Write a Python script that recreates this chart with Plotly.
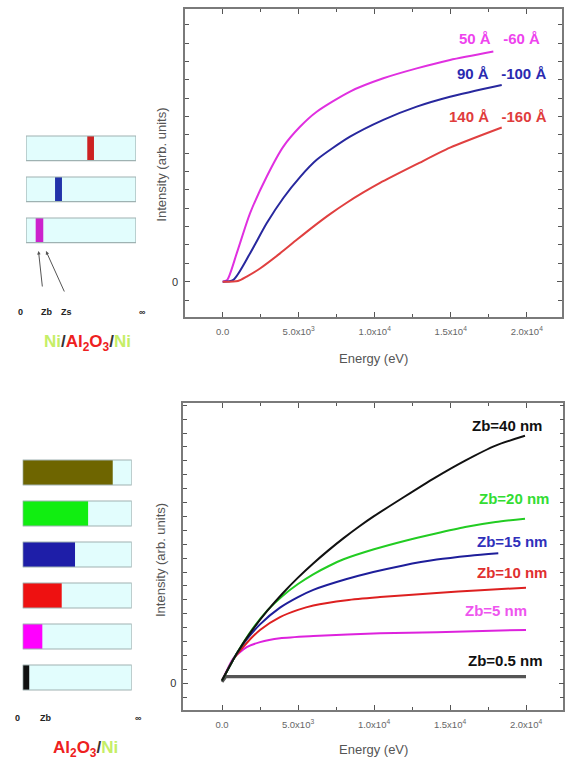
import plotly.graph_objects as go

W, H = 566, 760

# ---------------- data ----------------
# Top panel: Ni/Al2O3/Ni
top_e_50 = [0, 300, 921, 1796, 2892, 3988, 5085, 6184, 8375, 10566, 12763, 14954, 17803]
top_i_50 = [0, 0.05, 0.77, 1.86, 2.86, 3.68, 4.22, 4.63, 5.18, 5.54, 5.81, 6.04, 6.27]
top_e_90 = [0, 700, 1796, 2892, 3988, 5085, 6184, 8375, 10566, 12763, 14954, 18355]
top_i_90 = [0, 0.05, 0.77, 1.59, 2.28, 2.85, 3.32, 3.95, 4.41, 4.77, 5.04, 5.36]
top_e_140 = [0, 1000, 1579, 2454, 3770, 4868, 5961, 7059, 8158, 9250, 10349, 12763, 14954, 18355]
top_i_140 = [0, 0.02, 0.14, 0.36, 0.77, 1.14, 1.5, 1.84, 2.15, 2.43, 2.69, 3.2, 3.65, 4.2]
top_labels = ["50 Å\u00a0\u00a0 -60 Å", "90 Å\u00a0\u00a0 -100 Å", "140 Å\u00a0\u00a0 -160 Å"]

# Bottom panel: Al2O3/Ni
bot_e_40 = [0, 1000, 2000, 3000, 4000, 5000, 6000, 7000, 8000, 9000, 10000, 12000, 14000, 16000, 18000, 19934]
bot_i_40 = [0.1, 1.1, 1.92, 2.62, 3.24, 3.8, 4.31, 4.78, 5.22, 5.63, 6.01, 6.71, 7.39, 8.01, 8.55, 8.9]
bot_e_20 = [0, 1000, 2000, 3000, 4000, 5000, 6000, 7000, 8000, 10000, 12000, 14000, 16000, 18000, 19934]
bot_i_20 = [0.1, 1.1, 1.95, 2.63, 3.15, 3.57, 3.92, 4.21, 4.46, 4.82, 5.12, 5.38, 5.62, 5.8, 5.92]
bot_e_15 = [0, 1000, 1625, 2500, 3816, 5000, 6007, 8204, 9954, 11928, 14125, 16316, 18178]
bot_i_15 = [0.1, 1.1, 1.58, 2.12, 2.72, 3.1, 3.36, 3.75, 4.0, 4.24, 4.45, 4.59, 4.68]
bot_e_10 = [0, 800, 1625, 2500, 3816, 5000, 6007, 8204, 10395, 14125, 17000, 20000]
bot_i_10 = [0.1, 0.9, 1.45, 1.92, 2.38, 2.64, 2.8, 2.99, 3.1, 3.25, 3.35, 3.44]
bot_e_5 = [0, 400, 743, 1625, 2500, 3816, 6007, 10395, 14125, 20000]
bot_i_5 = [0.1, 0.55, 0.9, 1.3, 1.48, 1.62, 1.7, 1.8, 1.84, 1.92]
bot_e_05 = [0, 250, 20000]
bot_i_05 = [0.05, 0.24, 0.24]
bot_labels = ["Zb=40 nm", "Zb=20 nm", "Zb=15 nm", "Zb=10 nm", "Zb=5 nm", "Zb=0.5 nm"]

# axis ticks
x_tick_vals = [0, 5000, 10000, 15000, 20000]
x_tick_text = ["0.0", "5.0x10<sup>3</sup>", "1.0x10<sup>4</sup>", "1.5x10<sup>4</sup>", "2.0x10<sup>4</sup>"]
y_tick_vals = [0]
y_tick_text = ["0"]

# schematics: depth fraction of layer (0 .. infinity)
top_rows = ["a", "b", "c"]
top_stripe_start = [0.557, 0.264, 0.088]
top_stripe_end = [0.618, 0.327, 0.157]
top_stripe_colors = ["#cc2222", "#2233aa", "#cc22cc"]

bot_rows = ["r40", "r20", "r15", "r10", "r5", "r05"]
bot_fill = [0.826, 0.60, 0.48, 0.358, 0.18, 0.06]
bot_fill_colors = ["#6e6500", "#11ee11", "#1e1ea8", "#ee1111", "#ff00ff", "#111111"]

# ---------------- helpers ----------------
def px(x):
    return x / W

def py(y):
    return 1 - y / H

FONT = "Liberation Sans, Arial, sans-serif"

fig = go.Figure()

def line(x, y, color, xa, ya, width=2.0, shape="spline"):
    ln = dict(color=color, width=width, shape=shape)
    if shape == "spline":
        ln["smoothing"] = 0.7
    fig.add_trace(go.Scatter(x=x, y=y, mode="lines", line=ln,
                             xaxis=xa, yaxis=ya, showlegend=False, hoverinfo="skip"))

# top curves
line(top_e_50, top_i_50, "#e030e0", "x", "y")
line(top_e_90, top_i_90, "#28289e", "x", "y")
line(top_e_140, top_i_140, "#e04040", "x", "y")

# bottom curves
line(bot_e_05, bot_i_05, "#555555", "x2", "y2", width=3.2, shape="linear")
line(bot_e_5, bot_i_5, "#dd22dd", "x2", "y2")
line(bot_e_10, bot_i_10, "#dd2020", "x2", "y2")
line(bot_e_15, bot_i_15, "#1e1e9a", "x2", "y2")
line(bot_e_20, bot_i_20, "#22cc22", "x2", "y2")
line(bot_e_40, bot_i_40, "#111111", "x2", "y2")

# schematics
CYAN = "#e2fdfd"
EDGE = "#9fb2b2"

def bar(rows, lengths, bases, colors, edge, xa, ya, width):
    fig.add_trace(go.Bar(orientation="h", y=rows, x=lengths, base=bases, width=width,
                         marker=dict(color=colors, line=dict(color=edge or "rgba(0,0,0,0)", width=1.2 if edge else 0)),
                         xaxis=xa, yaxis=ya, showlegend=False, hoverinfo="skip", textposition="none"))

n3 = len(top_rows)
bar(top_rows, [1] * n3, [0] * n3, CYAN, None, "x3", "y3", 0.6)
bar(top_rows, [e - s for s, e in zip(top_stripe_start, top_stripe_end)], top_stripe_start,
    top_stripe_colors, None, "x3", "y3", 0.6)
bar(top_rows, [1] * n3, [0] * n3, "rgba(0,0,0,0)", EDGE, "x3", "y3", 0.6)

n6 = len(bot_rows)
bar(bot_rows, [1] * n6, [0] * n6, CYAN, None, "x4", "y4", 0.61)
bar(bot_rows, bot_fill, [0] * n6, bot_fill_colors, None, "x4", "y4", 0.61)
bar(bot_rows, [1] * n6, [0] * n6, "rgba(0,0,0,0)", EDGE, "x4", "y4", 0.61)

AXC = "#7a7a7a"

def xaxis(domain, anchor, rng):
    return dict(domain=domain, anchor=anchor, range=rng, showgrid=False, zeroline=False,
                showline=True, linecolor=AXC, linewidth=1.5, mirror="allticks",
                ticks="inside", ticklen=5, tickwidth=1, tickcolor="#555",
                tickmode="array", tickvals=x_tick_vals, ticktext=x_tick_text,
                minor=dict(ticks="inside", dtick=2500, ticklen=3, tickcolor="#555", tick0=0),
                tickfont=dict(family=FONT, size=9.5, color="#666"), ticklabelstandoff=5)

def yaxis(domain, anchor, rng):
    return dict(domain=domain, anchor=anchor, range=rng, showgrid=False, zeroline=False,
                showline=True, linecolor=AXC, linewidth=1.5, mirror="allticks",
                ticks="inside", ticklen=5, tickwidth=1, tickcolor="#555",
                tickmode="array", tickvals=y_tick_vals, ticktext=y_tick_text,
                minor=dict(ticks="inside", dtick=0.5, ticklen=4, tickcolor="#555", tick0=0),
                tickfont=dict(family=FONT, size=11, color="#333"), ticklabelstandoff=3)

hidden = dict(visible=False, showticklabels=False, showgrid=False, zeroline=False, fixedrange=True)

fig.update_layout(
    width=W, height=H, margin=dict(l=0, r=0, t=0, b=0),
    paper_bgcolor="white", plot_bgcolor="rgba(0,0,0,0)",
    barmode="overlay", showlegend=False,
    xaxis=xaxis([px(185), px(561.7)], "y", [-2480, 22300]),
    yaxis=yaxis([py(316.7), py(9.3)], "x", [-0.954, 7.42]),
    xaxis2=xaxis([px(183.3), px(563.3)], "y2", [-2546, 22454]),
    yaxis2=yaxis([py(710), py(403.3)], "x2", [-0.96, 10.07]),
    xaxis3=dict(domain=[px(26), px(136)], anchor="y3", range=[0, 1], **hidden),
    yaxis3=dict(domain=[py(250.8), py(127.8)], anchor="x3", type="category", categoryorder="array",
                categoryarray=top_rows, range=[len(top_rows) - 0.5, -0.5], **hidden),
    xaxis4=dict(domain=[px(22.7), px(131.7)], anchor="y4", range=[0, 1], **hidden),
    yaxis4=dict(domain=[py(698), py(452)], anchor="x4", type="category", categoryorder="array",
                categoryarray=bot_rows, range=[len(bot_rows) - 0.5, -0.5], **hidden),
)

ann = []

def text(x, y, s, size, color, bold=True, angle=0, xanchor="center"):
    ann.append(dict(x=px(x), y=py(y), xref="paper", yref="paper", text=("<b>%s</b>" % s) if bold else s,
                    showarrow=False, xanchor=xanchor, yanchor="middle", textangle=angle,
                    font=dict(family=FONT, size=size, color=color)))

# axis titles
text(373, 358, "Energy (eV)", 13, "#555", bold=False)
text(161.7, 165, "Intensity (arb. units)", 13, "#555", bold=False, angle=-90)
text(373, 749, "Energy (eV)", 13, "#555", bold=False)
text(160, 560, "Intensity (arb. units)", 13, "#555", bold=False, angle=-90)

# curve labels top
text(500, 38.3, top_labels[0], 15, "#ee44ee")
text(501.7, 73.3, top_labels[1], 15, "#2a2ab0")
text(498, 116, top_labels[2], 15, "#e03c3c")

# curve labels bottom
bl_pos = [(506.7, 425), (514, 498.3), (511.7, 541.7), (511.7, 572.7), (495.8, 610.7), (505.8, 660)]
bl_col = ["#111111", "#33dd33", "#3030bb", "#e03030", "#ee55ee", "#111111"]
for (x, y), s, c in zip(bl_pos, bot_labels, bl_col):
    text(x, y, s, 15, c)

# schematic labels top
for x, s in [(20.7, "0"), (46.7, "Zb"), (66.3, "Zs"), (142.5, "∞")]:
    text(x, 311.7, s, 9, "#222")
NI = "#c5ee66"
AL = "#ee2020"
ann.append(dict(x=px(87.5), y=py(343.3), xref="paper", yref="paper", showarrow=False,
                xanchor="center", yanchor="middle", font=dict(family=FONT, size=17, color="#333"),
                text="<b><span style='color:%s'>Ni</span>/<span style='color:%s'>Al<sub>2</sub>O<sub>3</sub></span>/<span style='color:%s'>Ni</span></b>" % (NI, AL, NI)))
# arrows from Zb / Zs to the layer edges
for hx, hy, ax, ay in [(38.5, 251, 4, 37), (46, 251, 19, 42)]:
    ann.append(dict(x=px(hx), y=py(hy), xref="paper", yref="paper", text="", showarrow=True,
                    ax=ax, ay=ay, arrowhead=2, arrowsize=0.7, arrowwidth=1, arrowcolor="#555"))

# schematic labels bottom
for x, s in [(17.3, "0"), (45, "Zb"), (138.3, "∞")]:
    text(x, 718.3, s, 9, "#222")
ann.append(dict(x=px(85), y=py(749), xref="paper", yref="paper", showarrow=False,
                xanchor="center", yanchor="middle", font=dict(family=FONT, size=17, color="#333"),
                text="<b><span style='color:%s'>Al<sub>2</sub>O<sub>3</sub></span>/<span style='color:%s'>Ni</span></b>" % (AL, NI)))

fig.update_layout(annotations=ann)
fig.write_html("out.html")
